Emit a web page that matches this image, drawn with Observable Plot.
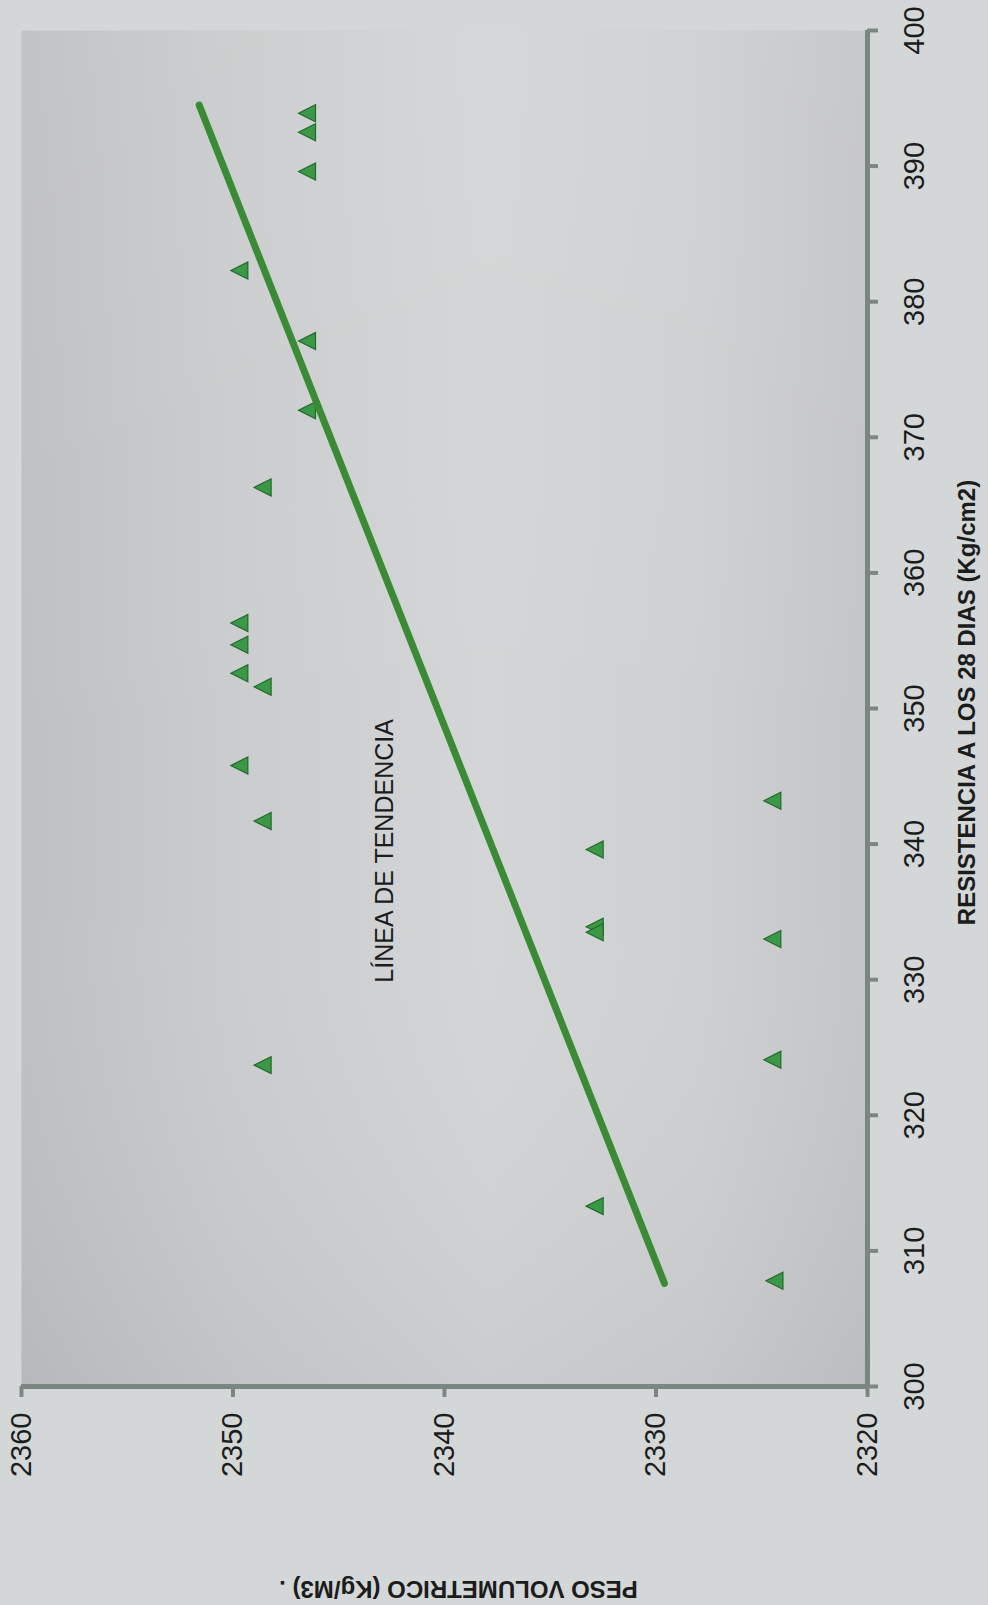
<!DOCTYPE html>
<html>
<head>
<meta charset="utf-8">
<script src="https://cdn.jsdelivr.net/npm/d3@7"></script>
<script src="https://cdn.jsdelivr.net/npm/@observablehq/plot@0.6"></script>
<style>
  html, body { margin: 0; padding: 0; background: #d4d7d7; }
  #chart { width: 988px; height: 1605px; }
</style>
</head>
<body>
<div id="chart"></div>
<script>
// Compressive strength at 28 days (kg/cm²), one value per specimen
const resistencia = [307.8, 313.3, 323.7, 324.1, 333.0, 333.9, 333.5, 339.6, 343.2, 341.7, 345.8,
                     351.6, 352.6, 354.7, 356.3, 366.3, 372.0, 377.1, 382.3, 389.6, 392.5, 393.9];
// Unit weight (kg/m³) of the same specimens
const peso = [2324.4, 2332.9, 2348.6, 2324.5, 2324.5, 2332.9, 2332.9, 2332.9, 2324.5, 2348.6, 2349.7,
              2348.6, 2349.7, 2349.7, 2349.7, 2348.6, 2346.5, 2346.5, 2349.7, 2346.5, 2346.5, 2346.5];

// Trend line end points
const trendRes = [307.6, 394.5];
const trendPeso = [2329.6, 2351.6];

// Axis ticks
const resTicks = [300, 310, 320, 330, 340, 350, 360, 370, 380, 390, 400];
const pesoTicks = [2320, 2330, 2340, 2350, 2360];

// Annotation inside the plot
const annotation = [{text: "LÍNEA DE TENDENCIA", res: 339.5, peso: 2342.8}];

const resTitle = "RESISTENCIA A LOS 28 DIAS (Kg/cm2)";
const pesoTitle = "PESO VOLUMETRICO (Kg/M3) .";

const points = resistencia.map((r, i) => ({res: r, peso: peso[i]}));
const trend = trendRes.map((r, i) => ({res: r, peso: trendPeso[i]}));

// The page is laid out sideways: weight runs horizontally (2360 → 2320),
// strength runs vertically with the axis on the right.
const W = 988, H = 1605;
const margin = {top: 30, right: 121, bottom: 219, left: 21};
const pxPerPeso = (W - margin.left - margin.right) / 40;
const pxPerRes = (H - margin.top - margin.bottom) / 100;
const tickLen = 11;

const axisColor = "#7c8680";
const ink = "#1b1c1c";
const font = "'Liberation Sans', Arial, Helvetica, sans-serif";

// Left-pointing triangle marker, centred on its bounding box
const leftTriangle = {
  draw(context, size) {
    const r = Math.sqrt(size / Math.PI);
    context.moveTo(-r, 0);
    context.lineTo(r, -r);
    context.lineTo(r, r);
    context.closePath();
  }
};

const chart = Plot.plot({
  width: W,
  height: H,
  marginTop: margin.top,
  marginRight: margin.right,
  marginBottom: margin.bottom,
  marginLeft: margin.left,
  style: {background: "transparent", fontFamily: font, overflow: "visible"},
  x: {domain: [2360, 2320], axis: null},
  y: {domain: [300, 400], axis: null},
  marks: [
    Plot.frame({fill: "url(#plotBg)", stroke: null}),
    Plot.frame({fill: "url(#plotShade)", stroke: null}),

    // axis lines
    Plot.ruleX([2320], {y1: 300, y2: 400, stroke: axisColor, strokeWidth: 5}),
    Plot.ruleY([300], {x1: 2360, x2: 2320, stroke: axisColor, strokeWidth: 5}),

    // tick marks: strength ticks point right, weight ticks point down
    Plot.ruleY(resTicks, {y: d => d, x1: 2320, x2: 2320 - tickLen / pxPerPeso, stroke: axisColor, strokeWidth: 4}),
    Plot.ruleX(pesoTicks, {x: d => d, y1: 300, y2: 300 - tickLen / pxPerRes, stroke: axisColor, strokeWidth: 4}),

    // tick labels
    Plot.text(resTicks, {
      y: d => d, text: d => String(d), frameAnchor: "right", dx: 47,
      rotate: -90, textAnchor: "middle", lineAnchor: "middle",
      fontSize: 29, fill: ink
    }),
    Plot.text(pesoTicks, {
      x: d => d, text: d => String(d), frameAnchor: "bottom", dy: 26,
      rotate: -90, textAnchor: "end", lineAnchor: "middle",
      fontSize: 29, fill: ink
    }),

    // axis titles
    Plot.text([resTitle], {
      text: d => d, frameAnchor: "right", dx: 100, dy: -6, rotate: -90,
      textAnchor: "middle", lineAnchor: "middle",
      fontSize: 24, fontWeight: "bold", fill: ink
    }),
    Plot.text([pesoTitle], {
      text: d => d, frameAnchor: "bottom", dx: 14, dy: 202, rotate: 180,
      textAnchor: "middle", lineAnchor: "middle",
      fontSize: 24, fontWeight: "bold", fill: ink
    }),

    // specimens
    Plot.dot(points, {
      x: "peso", y: "res", symbol: leftTriangle, r: 8.5,
      fill: "#3a9847", stroke: "#226a2d", strokeWidth: 1.2
    }),

    // trend line
    Plot.line(trend, {
      x: "peso", y: "res", stroke: "#3a8a36", strokeWidth: 7, strokeLinecap: "round"
    }),

    // annotation
    Plot.text(annotation, {
      x: "peso", y: "res", text: "text", rotate: -90,
      textAnchor: "middle", lineAnchor: "middle",
      fontSize: 25, fill: ink
    })
  ]
});

// Gradient fills for the plot area
const defs = d3.select(chart).insert("defs", ":first-child");
const bg = defs.append("linearGradient").attr("id", "plotBg")
  .attr("x1", 0).attr("x2", 1).attr("y1", 0).attr("y2", 0);
[[0, "#bfc0c3"], [0.25, "#cacccd"], [0.55, "#d3d5d6"], [0.8, "#ced0d1"], [1, "#c4c5c7"]]
  .forEach(([o, c]) => bg.append("stop").attr("offset", o).attr("stop-color", c));
const shade = defs.append("linearGradient").attr("id", "plotShade")
  .attr("x1", 0).attr("x2", 0).attr("y1", 0).attr("y2", 1);
[[0, "rgba(255,255,255,0.05)"], [0.6, "rgba(255,255,255,0)"], [1, "rgba(60,60,70,0.06)"]]
  .forEach(([o, c]) => shade.append("stop").attr("offset", o).attr("stop-color", c));

document.getElementById("chart").appendChild(chart);
</script>
</body>
</html>
